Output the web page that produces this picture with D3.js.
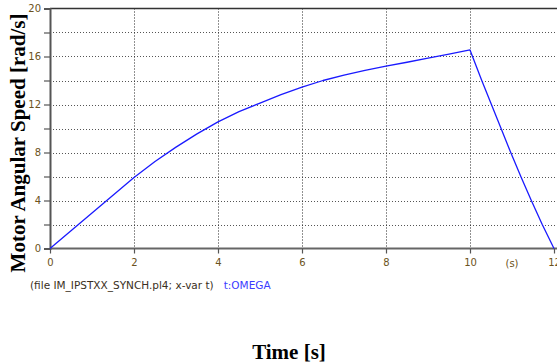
<!DOCTYPE html>
<html>
<head>
<meta charset="utf-8">
<script src="https://cdn.jsdelivr.net/npm/d3@7/dist/d3.min.js"></script>
<style>
  html, body { margin: 0; padding: 0; background: #fff; }
  svg { display: block; }
</style>
</head>
<body>
<svg id="chart" width="557" height="364"></svg>
<script>
// Motor angular speed (rad/s) vs time (s)
const timeS = [0, 0.5, 1.0, 1.5, 2.0, 2.5, 3.0, 3.5, 4.0, 4.5, 5.0, 5.5, 6.0, 6.5, 7.0, 7.5, 8.0, 8.5, 9.0, 9.5, 10.0,
               10.28, 10.51, 10.74, 10.97, 11.21, 11.46, 11.72, 12.0];
const omega = [0, 1.48, 2.96, 4.43, 5.92, 7.25, 8.45, 9.55, 10.55, 11.4, 12.12, 12.82, 13.45, 14.0, 14.45, 14.85, 15.2, 15.52, 15.86, 16.2, 16.55,
               14.0, 12.0, 10.0, 8.0, 6.0, 4.0, 2.0, 0];
const xTicks = [0, 2, 4, 6, 8, 10, 12];
const yTicks = [0, 2, 4, 6, 8, 10, 12, 14, 16, 18, 20];
const yLabelTicks = [0, 4, 8, 12, 16, 20];

const svg = d3.select("#chart");
const plotL = 50, plotR = 554, plotT = 8.5, plotB = 248.5;

const x = d3.scaleLinear().domain([0, 12]).range([plotL, plotR]);
const y = d3.scaleLinear().domain([0, 20]).range([plotB, plotT]);

const tickColor = "#6b5220";
const tickFont = "Tahoma, 'DejaVu Sans', Verdana, sans-serif";

// dotted grid
svg.append("g").selectAll("line").data(yTicks.filter(d => d > 0 && d < 20)).join("line")
  .attr("x1", plotL).attr("x2", 557)
  .attr("y1", d => Math.round(y(d)) + 0.5).attr("y2", d => Math.round(y(d)) + 0.5)
  .attr("stroke", "#555").attr("stroke-width", 1).attr("stroke-dasharray", "1,2");
svg.append("g").selectAll("line").data(xTicks.filter(d => d > 0 && d < 12)).join("line")
  .attr("x1", d => Math.round(x(d)) + 0.5).attr("x2", d => Math.round(x(d)) + 0.5)
  .attr("y1", plotT).attr("y2", plotB)
  .attr("stroke", "#222").attr("stroke-width", 1).attr("stroke-dasharray", "1,2");

// frame: top border, left and bottom axes
svg.append("line").attr("x1", plotL).attr("x2", 557).attr("y1", plotT).attr("y2", plotT)
  .attr("stroke", "#333").attr("stroke-width", 1.5);

const yAxis = d3.axisLeft(y).tickValues(yTicks).tickSize(6)
  .tickFormat(d => yLabelTicks.includes(d) ? d : "");
const gy = svg.append("g").attr("transform", `translate(${plotL},0)`).call(yAxis);
gy.select(".domain").attr("stroke", "#555").attr("stroke-width", 2);
gy.selectAll(".tick line").attr("stroke", "#555").attr("stroke-width", 1.2);
gy.selectAll(".tick text").attr("fill", tickColor).attr("font-family", tickFont)
  .attr("font-size", 10).attr("x", -9);

const xAxis = d3.axisBottom(x).tickValues(xTicks).tickSize(5).tickFormat(d => d);
const gx = svg.append("g").attr("transform", `translate(0,${plotB})`).call(xAxis);
gx.select(".domain").attr("stroke", "#666").attr("stroke-width", 2)
  .attr("d", `M${plotL},0H557`);
gx.selectAll(".tick line").attr("stroke", "#555").attr("stroke-width", 1.2);
gx.selectAll(".tick text").attr("fill", tickColor).attr("font-family", tickFont)
  .attr("font-size", 10).attr("dy", "0.9em");

// x unit marker
svg.append("text").attr("x", x(11)).attr("y", 267)
  .attr("text-anchor", "middle").attr("fill", tickColor)
  .attr("font-family", tickFont).attr("font-size", 10).text("(s)");

// speed trace
const line = d3.line().x((d, i) => x(timeS[i])).y(d => y(d));
svg.append("path").datum(omega).attr("d", line)
  .attr("fill", "none").attr("stroke", "#1a1aff").attr("stroke-width", 1.3)
  .attr("stroke-linejoin", "round");

// caption line
const cap = svg.append("text").attr("x", 30).attr("y", 289)
  .attr("font-family", tickFont).attr("font-size", 10.5);
cap.append("tspan").attr("fill", "#3a2f22").text("(file IM_IPSTXX_SYNCH.pl4; x-var t)");
cap.append("tspan").attr("fill", "#3b3bff").attr("dx", 10).text("t:OMEGA");

// axis titles
svg.append("text").attr("x", 289).attr("y", 359).attr("text-anchor", "middle")
  .attr("font-family", "'Liberation Serif', 'Times New Roman', serif")
  .attr("font-weight", "bold").attr("font-size", 21).attr("fill", "#000")
  .text("Time [s]");
svg.append("text").attr("transform", "translate(25,143) rotate(-90)")
  .attr("text-anchor", "middle")
  .attr("font-family", "'Liberation Serif', 'Times New Roman', serif")
  .attr("font-weight", "bold").attr("font-size", 21).attr("fill", "#000")
  .text("Motor Angular Speed [rad/s]");
</script>
</body>
</html>
